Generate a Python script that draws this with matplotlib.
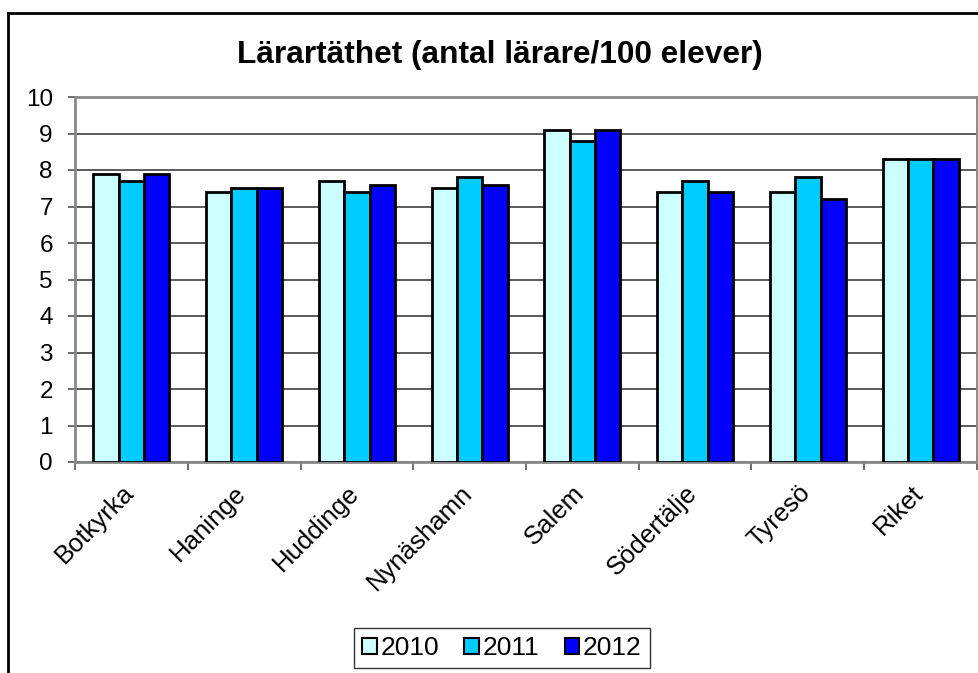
import numpy as np
import matplotlib.pyplot as plt
from matplotlib.lines import Line2D
from matplotlib.transforms import ScaledTranslation

# Data
kommuner = ["Botkyrka", "Haninge", "Huddinge", "Nynäshamn", "Salem",
            "Södertälje", "Tyresö", "Riket"]
ar = ["2010", "2011", "2012"]
v2010 = [7.9, 7.4, 7.7, 7.5, 9.1, 7.4, 7.4, 8.3]
v2011 = [7.7, 7.5, 7.4, 7.8, 8.8, 7.7, 7.8, 8.3]
v2012 = [7.9, 7.5, 7.6, 7.6, 9.1, 7.4, 7.2, 8.3]
farger = ["#CCFFFF", "#00CCFF", "#0000FF"]

plt.rcParams['font.family'] = ['Liberation Sans', 'DejaVu Sans']

fig = plt.figure(figsize=(9.79, 6.73), dpi=100)
ax = fig.add_axes([75 / 979, 1 - 462 / 673, (977 - 75) / 979, (462 - 97) / 673])

x = np.arange(len(kommuner))
w = 0.225
for i, (vals, c, lab) in enumerate(zip([v2010, v2011, v2012], farger, ar)):
    ax.bar(x + (i - 1) * w, vals, width=w, color=c, edgecolor="black",
           linewidth=2, label=lab, zorder=3)

ax.set_xlim(-0.5, len(kommuner) - 0.5)
ax.set_ylim(0, 10)
ax.set_yticks(range(0, 11))
ax.yaxis.grid(True, color="#404040", linewidth=1.2, zorder=0)
ax.tick_params(axis="y", labelsize=17.5, length=5, width=1.2, color="#555555", pad=11)

ax.set_xticks(np.arange(-0.5, len(kommuner), 1), minor=False)
ax.set_xticklabels([])
ax.set_xticks(x, minor=True)
ax.set_xticklabels(kommuner, minor=True, rotation=45, ha="right",
                   rotation_mode="anchor", fontsize=18.5)
ax.tick_params(axis="x", which="major", length=6, width=1.2, color="#555555")
ax.tick_params(axis="x", which="minor", length=0, pad=12)
skift = ScaledTranslation(-10 / 100, -2 / 100, fig.dpi_scale_trans)
for lbl in ax.get_xticklabels(minor=True):
    lbl.set_transform(lbl.get_transform() + skift)

for s in ax.spines.values():
    s.set_color("#888888")
    s.set_linewidth(2)

fig.text(500 / 979, 1 - 55 / 673, "Lärartäthet (antal lärare/100 elever)",
         ha="center", va="center", fontsize=22.8, fontweight="bold")

leg = ax.legend(loc="center", bbox_to_anchor=(502 / 979, 1 - 648 / 673),
                bbox_transform=fig.transFigure, ncol=3, fontsize=19,
                frameon=True, fancybox=False, edgecolor="black",
                handlelength=0.55, handleheight=0.55, handletextpad=0.15,
                columnspacing=0.95, borderpad=0.3, borderaxespad=0)
leg.get_frame().set_linewidth(1)
for p in leg.get_patches():
    p.set_linewidth(1.5)

# outer chart frame
fig.add_artist(Line2D([8 / 979, 8 / 979], [0, 1 - 13 / 673], color="black",
                      linewidth=2, transform=fig.transFigure))
fig.add_artist(Line2D([8 / 979, 1], [1 - 13 / 673, 1 - 13 / 673], color="black",
                      linewidth=2, transform=fig.transFigure))

plt.savefig("out.png", dpi=100)
